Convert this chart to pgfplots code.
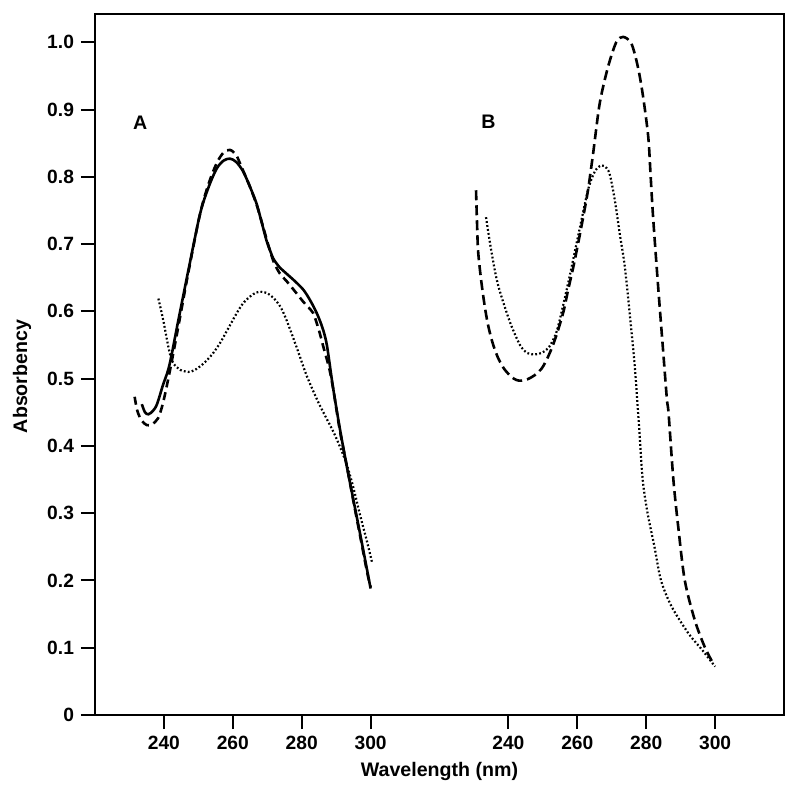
\documentclass[border=0pt]{standalone}
\usepackage{fontspec}
\setmainfont{Liberation Sans}
\usepackage{pgfplots}
\usepackage{pgfplotstable}
\pgfplotsset{compat=1.18}

% panel B is drawn shifted by +100 nm on the shared x axis
\pgfplotstableread{
lam A
233.6 0.462
234.5 0.450
235.5 0.447
236.8 0.452
238.0 0.462
239.7 0.490
241.6 0.520
244.2 0.587
247.1 0.661
250.5 0.745
253.0 0.785
255.3 0.812
257.3 0.824
259.2 0.827
261.0 0.822
263.0 0.808
265.0 0.785
266.9 0.760
268.5 0.730
269.8 0.705
271.0 0.688
271.8 0.678
273.5 0.666
275.6 0.656
278.0 0.645
280.5 0.632
282.5 0.616
284.4 0.597
286.0 0.576
287.3 0.550
289.0 0.490
291.0 0.428
293.0 0.372
295.0 0.320
297.0 0.268
299.0 0.215
300.0 0.188
}\solidA

\pgfplotstableread{
lam A
231.5 0.473
232.3 0.452
233.5 0.438
235.0 0.431
236.5 0.432
238.3 0.441
239.7 0.463
241.2 0.498
243.0 0.545
245.0 0.600
247.1 0.658
250.5 0.745
253.0 0.790
255.3 0.820
257.3 0.836
259.2 0.840
261.0 0.832
262.5 0.815
265.0 0.785
267.0 0.757
269.0 0.722
270.5 0.695
272.0 0.672
273.7 0.656
275.6 0.645
278.0 0.630
280.5 0.614
282.5 0.603
283.4 0.597
285.0 0.572
286.3 0.547
288.0 0.515
289.2 0.483
291.0 0.425
293.1 0.370
295.0 0.318
297.0 0.265
299.0 0.212
300.0 0.190
}\dashedA

\pgfplotstableread{
lam A
238.4 0.619
239.8 0.587
241.3 0.547
242.3 0.527
243.5 0.518
244.7 0.513
247.1 0.510
249.0 0.513
251.4 0.522
254.0 0.536
256.3 0.553
258.5 0.573
261.1 0.597
263.0 0.612
265.0 0.622
266.8 0.628
268.4 0.629
270.0 0.627
271.8 0.620
273.8 0.607
275.6 0.587
278.5 0.547
281.4 0.505
285.0 0.463
289.0 0.423
291.0 0.400
293.1 0.372
295.0 0.338
296.9 0.298
299.0 0.257
300.5 0.225
}\dottedA

\pgfplotstableread{
lam A
230.6 0.780
230.9 0.730
231.2 0.690
232.0 0.650
233.0 0.612
234.0 0.582
235.3 0.555
236.9 0.532
238.7 0.515
240.8 0.503
242.3 0.498
243.7 0.497
245.5 0.499
247.6 0.505
249.5 0.514
251.0 0.527
252.8 0.548
254.4 0.572
256.0 0.600
257.3 0.631
258.8 0.665
260.2 0.700
261.7 0.740
263.1 0.780
264.6 0.835
266.5 0.909
268.9 0.963
271.3 1.000
273.3 1.008
275.7 0.998
277.6 0.963
279.1 0.919
280.6 0.859
281.3 0.800
282.0 0.740
283.4 0.641
284.9 0.542
286.0 0.470
286.5 0.448
287.9 0.349
289.4 0.275
291.2 0.200
294.1 0.141
297.0 0.101
299.4 0.077
}\dashedB

\pgfplotstableread{
lam A
233.5 0.740
235.0 0.691
236.9 0.641
239.9 0.592
241.8 0.567
243.7 0.547
245.5 0.538
247.6 0.536
249.5 0.538
251.5 0.545
253.0 0.558
254.4 0.577
257.3 0.641
260.2 0.711
263.1 0.780
265.1 0.808
267.0 0.817
268.5 0.813
269.5 0.802
270.9 0.765
272.3 0.716
273.8 0.666
275.3 0.592
276.7 0.517
278.0 0.423
279.0 0.349
280.4 0.300
282.4 0.250
284.3 0.200
287.4 0.161
292.3 0.121
296.2 0.097
300.0 0.072
}\dottedB

\begin{document}
\begin{tikzpicture}
\begin{axis}[
    width=344.5pt, height=350.5pt, scale only axis,
    xmin=220, xmax=420, ymin=0, ymax=1.042,
    axis line style={line width=1pt},
    tick pos=left, tick align=outside,
    major tick length=7pt,
    every tick/.style={black, line width=1pt},
    xtick={240,260,280,300,340,360,380,400},
    xticklabels={240,260,280,300,240,260,280,300},
    ytick={0,0.1,0.2,0.3,0.4,0.5,0.6,0.7,0.8,0.9,1.0},
    yticklabels={0,0.1,0.2,0.3,0.4,0.5,0.6,0.7,0.8,0.9,1.0},
    /pgf/number format/assume math mode=true,
    ticklabel style={font=\fontsize{9.6}{11}\selectfont\bfseries},
    xlabel={Wavelength (nm)},
    ylabel={Absorbency},
    every axis x label/.style={at={(axis description cs:0.5,-0.08)}, anchor=center, font=\fontsize{9.8}{11}\selectfont\bfseries},
    every axis y label/.style={at={(axis description cs:-0.106,0.483)}, rotate=90, anchor=center, font=\fontsize{9.8}{11}\selectfont\bfseries},
    clip=false,
]
\addplot[black, line width=1.3pt, smooth] table[x=lam, y=A] {\solidA};
\addplot[black, line width=1.3pt, smooth, dash pattern=on 4pt off 2.5pt] table[x=lam, y=A] {\dashedA};
\addplot[black, line width=1.1pt, smooth, dash pattern=on 0.9pt off 1.1pt] table[x=lam, y=A] {\dottedA};
\addplot[black, line width=1.3pt, smooth, dash pattern=on 5pt off 2.5pt] table[x expr=\thisrow{lam}+100, y=A] {\dashedB};
\addplot[black, line width=1.1pt, smooth, dash pattern=on 0.9pt off 1.1pt] table[x expr=\thisrow{lam}+100, y=A] {\dottedB};
\node[font=\fontsize{9.8}{11}\selectfont\bfseries] at (axis cs:233.1,0.88) {A};
\node[font=\fontsize{9.8}{11}\selectfont\bfseries] at (axis cs:334.2,0.882) {B};
\end{axis}
\pgfresetboundingbox
\path ([xshift=-47.5pt,yshift=-39.5pt]current axis.south west) rectangle ([xshift=8pt,yshift=7pt]current axis.north east);
\end{tikzpicture}
\end{document}
